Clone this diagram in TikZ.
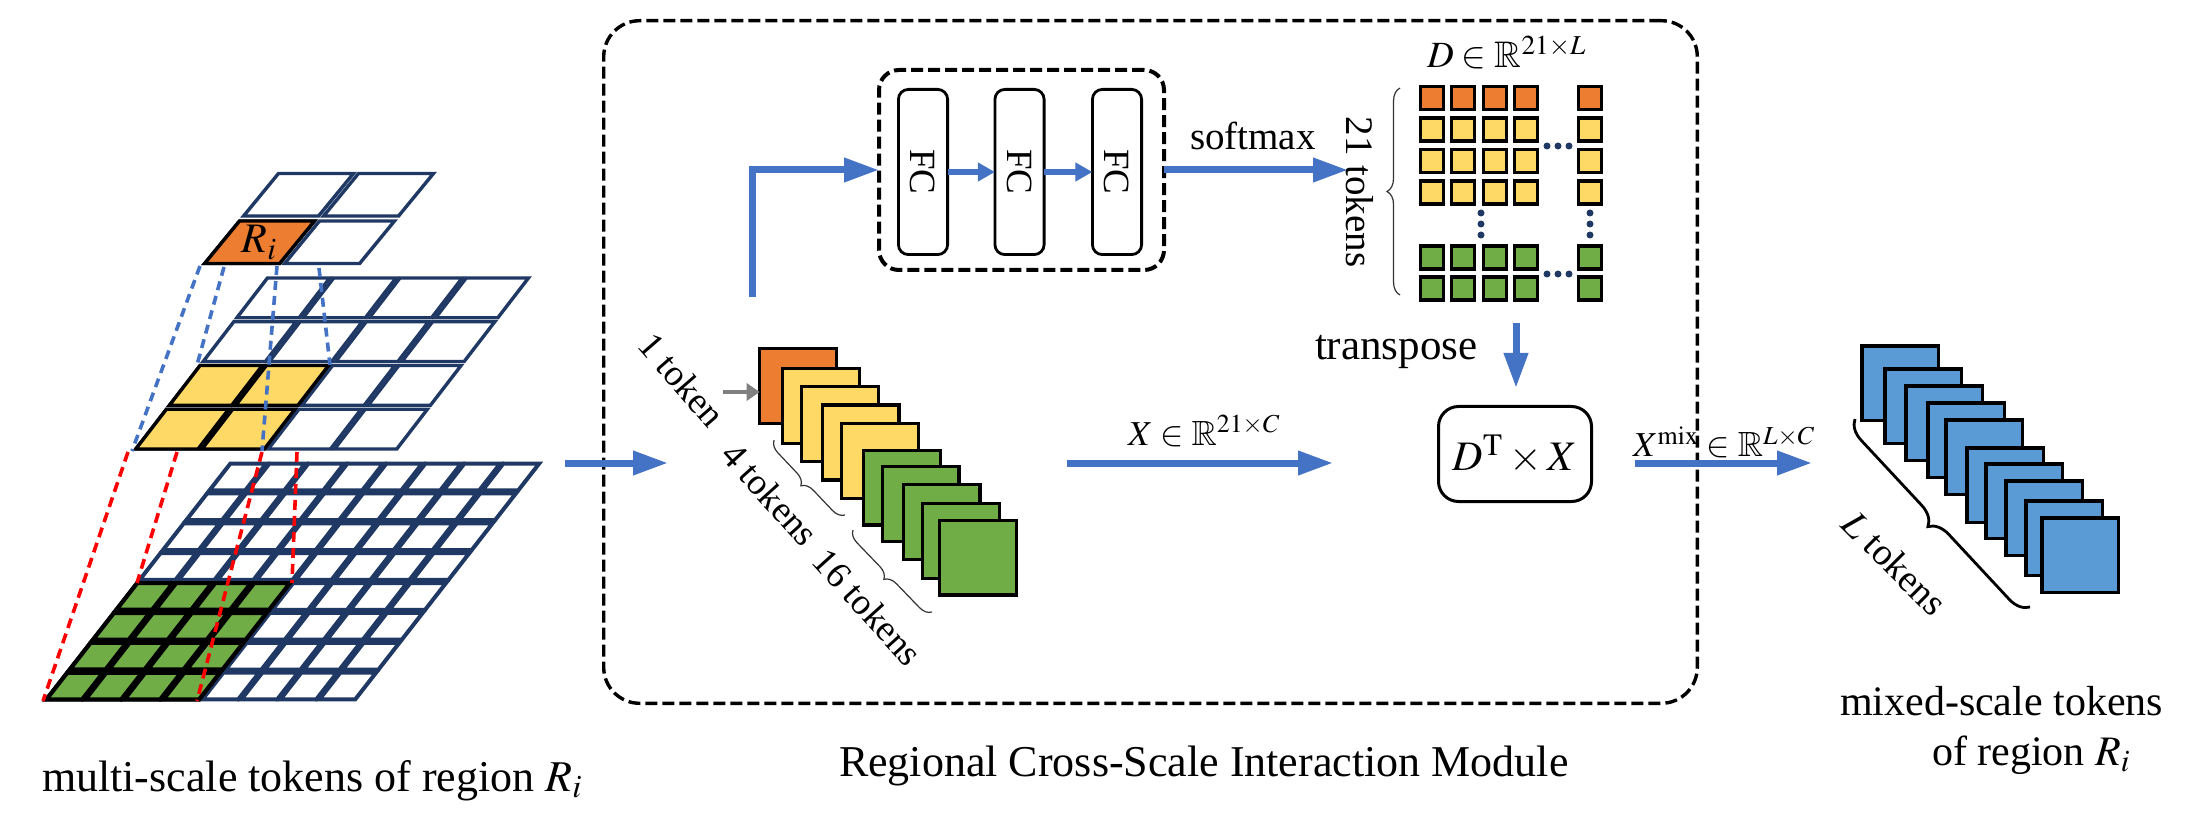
\documentclass[tikz,border=0pt]{standalone}
\usepackage{mathptmx}
\usepackage{amssymb}
\usepackage{fontspec}
\setmainfont{Liberation Serif}
\usetikzlibrary{arrows.meta,decorations.pathreplacing}
\definecolor{cOrange}{HTML}{ED7D31}
\definecolor{cYellow}{HTML}{FFD966}
\definecolor{cGreen}{HTML}{70AD47}
\definecolor{cBlue}{HTML}{5B9BD5}
\definecolor{cArrow}{HTML}{4472C4}
\definecolor{cNavy}{HTML}{1F3864}
\definecolor{cRed}{HTML}{FF0000}
\definecolor{cGray}{HTML}{7F7F7F}
\begin{document}
\begin{tikzpicture}[x=0.5pt,y=-0.5pt,
  every node/.style={inner sep=0pt,outer sep=0pt},
  navycell/.style={draw=cNavy,line width=1.5pt,fill=white,line join=miter},
  blkcell/.style={draw=black,line width=1.7pt,line join=miter},
  bigarrow/.style={draw=cArrow,line width=3.5pt,-{Triangle[length=17.5pt,width=11.5pt]}},
  smallarrow/.style={draw=cArrow,line width=3pt,-{Triangle[length=8.5pt,width=9pt]}},
  tok/.style={draw=black,line width=1.7pt,minimum width=38.3pt,minimum height=37.3pt},
  mcell/.style={draw=black,line width=1.6pt,minimum size=11.5pt},
  fcnode/.style={draw=black,line width=1.4pt,rounded corners=5pt,minimum width=24.6pt,minimum height=82.6pt},
  bluedash/.style={draw=cArrow,line width=1.8pt,dash pattern=on 4.5pt off 3pt},
  reddash/.style={draw=cRed,line width=1.8pt,dash pattern=on 5pt off 3pt},
  boxdash/.style={draw=black,dash pattern=on 6pt off 2.5pt},
  thinbrace/.style={draw=black!80,line width=0.6pt,decorate,decoration={brace,amplitude=6pt}},
  capfont/.style={font=\fontsize{22}{26}\selectfont},
  capfontR/.style={font=\fontsize{21}{25}\selectfont},
  lblfont/.style={font=\fontsize{18.5}{22}\selectfont},
  midfont/.style={font=\fontsize{19.5}{23}\selectfont},
  fcfont/.style={font=\fontsize{18.5}{22}\selectfont},
  mathfont/.style={font=\fontsize{17.5}{21}\selectfont},
  dotc/.style={fill=cNavy},
]
\useasboundingbox (0,0) rectangle (2205,828);

% ---------------- left: multi-scale grids ----------------
% layer 3 (8x8)
\begin{scope}[shift={(230,462)},xslant=0.78]
  \foreach \r in {0,...,7} \foreach \c in {0,...,7} {
    \pgfmathsetmacro\ua{\c*39+1.6}\pgfmathsetmacro\ub{\c*39+37.4}
    \pgfmathsetmacro\va{\r*29.875+1.6}\pgfmathsetmacro\vb{\r*29.875+28.3}
    \draw[navycell,line width=2pt] (\ua,\va) -- (\ub,\va) -- (\ub,\vb) -- (\ua,\vb) -- cycle;
  }
  \foreach \r in {4,...,7} \foreach \c in {0,...,3} {
    \pgfmathsetmacro\ua{\c*39+1.6}\pgfmathsetmacro\ub{\c*39+37.4}
    \pgfmathsetmacro\va{\r*29.875+1.6}\pgfmathsetmacro\vb{\r*29.875+28.3}
    \draw[blkcell,fill=cGreen,line width=2.1pt] (\ua,\va) -- (\ub,\va) -- (\ub,\vb) -- (\ua,\vb) -- cycle;
  }
\end{scope}
% layer 2 (4x4)
\begin{scope}[shift={(267,276)},xslant=0.77]
  \foreach \r in {0,...,3} \foreach \c in {0,...,3} {
    \pgfmathsetmacro\ua{\c*66.25+2}\pgfmathsetmacro\ub{\c*66.25+64.25}
    \pgfmathsetmacro\va{\r*43.75+2}\pgfmathsetmacro\vb{\r*43.75+41.75}
    \draw[navycell,line width=1.7pt] (\ua,\va) -- (\ub,\va) -- (\ub,\vb) -- (\ua,\vb) -- cycle;
  }
  \foreach \r in {2,3} \foreach \c in {0,1} {
    \pgfmathsetmacro\ua{\c*66.25+2}\pgfmathsetmacro\ub{\c*66.25+64.25}
    \pgfmathsetmacro\va{\r*43.75+2}\pgfmathsetmacro\vb{\r*43.75+41.75}
    \draw[blkcell,fill=cYellow] (\ua,\va) -- (\ub,\va) -- (\ub,\vb) -- (\ua,\vb) -- cycle;
  }
\end{scope}
% layer 1 (2x2)
\begin{scope}[shift={(278,171)},xslant=0.82]
  \foreach \r in {0,1} \foreach \c in {0,1} {
    \pgfmathsetmacro\ua{\c*80+2.5}\pgfmathsetmacro\ub{\c*80+77.5}
    \pgfmathsetmacro\va{\r*47.5+2.5}\pgfmathsetmacro\vb{\r*47.5+45}
    \draw[navycell,line width=1.7pt] (\ua,\va) -- (\ub,\va) -- (\ub,\vb) -- (\ua,\vb) -- cycle;
  }
  \draw[blkcell,fill=cOrange] (2.5,50) -- (77.5,50) -- (77.5,92.5) -- (2.5,92.5) -- cycle;
  \node[font=\fontsize{21}{25}\selectfont] (ri) at (40,71.5) {$R_i$};
\end{scope}

% projection lines
\coordinate (b1s) at (200,266); \coordinate (b1e) at (132,451);
\coordinate (b2s) at (224,267); \coordinate (b2e) at (197,365);
\coordinate (b3s) at (277,266); \coordinate (b3e) at (262,451);
\coordinate (b4s) at (319,268); \coordinate (b4e) at (330,365);
\draw[bluedash] (b1s) -- (b1e);
\draw[bluedash] (b2s) -- (b2e);
\draw[bluedash] (b3s) -- (b3e);
\draw[bluedash] (b4s) -- (b4e);
\coordinate (r1s) at (128,452); \coordinate (r1e) at (43,701);
\coordinate (r2s) at (177,452); \coordinate (r2e) at (137,583);
\coordinate (r3s) at (262,452); \coordinate (r3e) at (197,701);
\coordinate (r4s) at (297,452); \coordinate (r4e) at (292,583);
\draw[reddash] (r1s) -- (r1e);
\draw[reddash] (r2s) -- (r2e);
\draw[reddash] (r3s) -- (r3e);
\draw[reddash] (r4s) -- (r4e);

% ---------------- captions ----------------
\node[capfont,anchor=base west] (capL) at (42,791) {multi-scale tokens of region $R_i$};
\node[capfont,anchor=base west] (capM) at (839,776) {Regional Cross-Scale Interaction Module};
\node[capfontR,anchor=base west] (capR1) at (1840,715) {mixed-scale tokens};
\node[capfontR,anchor=base west] (capR2) at (1932,765) {of region $R_i$};

% ---------------- module box ----------------
\node[boxdash,line width=1.7pt,rounded corners=18pt,minimum width=546.8pt,minimum height=341.3pt] (module) at (1150.5,362) {};

% input arrow
\coordinate (in0) at (565,463); \coordinate (in1) at (668,463);
\draw[bigarrow] (in0) -- (in1);

% token stack
\foreach \x/\y/\c [count=\i] in {798/386/cOrange,821/406/cYellow,840/424/cYellow,860.5/442.5/cYellow,880/461/cYellow,902/487.5/cGreen,920.5/504/cGreen,941.5/522/cGreen,961/541/cGreen,978/557.5/cGreen}
  \node[tok,fill=\c] (t\i) at (\x,\y) {};
\coordinate (g0) at (723,392);
\draw[draw=cGray,line width=1.6pt,-{Triangle[length=6.5pt,width=8.5pt]}] (g0) -- (t1.west |- g0);
\node[lblfont,rotate=-49] (l1) at (682,380) {1 token};
\node[lblfont,rotate=-48] (l4) at (770,494) {4 tokens};
\node[lblfont,rotate=-48] (l16) at (868,607) {16 tokens};
\coordinate (br4a) at (845,515); \coordinate (br4b) at (774,440);
\coordinate (br16a) at (932,612); \coordinate (br16b) at (853,530);
\draw[thinbrace] (br4a) -- (br4b);
\draw[thinbrace] (br16a) -- (br16b);

% FC block
\node[boxdash,line width=2pt,rounded corners=10pt,minimum width=142.5pt,minimum height=100pt] (fcbox) at (1021.5,170) {};
\coordinate (up0) at (752,297);
\draw[bigarrow] (up0) |- (fcbox.west);
\node[fcnode] (fc1) at (923,172) {};
\node[fcnode] (fc2) at (1019.5,172) {};
\node[fcnode] (fc3) at (1117,172) {};
\node[fcfont,rotate=-90] (fc1t) at (fc1) {FC};
\node[fcfont,rotate=-90] (fc2t) at (fc2) {FC};
\node[fcfont,rotate=-90] (fc3t) at (fc3) {FC};
\draw[smallarrow] (fc1.east) -- (fc2.west);
\draw[smallarrow] (fc2.east) -- (fc3.west);
\coordinate (sm1) at (1348,170);
\draw[bigarrow] (fcbox.east) -- (sm1);
\node[midfont,anchor=base west] (smx) at (1190,150) {softmax};

% D matrix
\foreach \x [count=\i] in {1432,1463,1495,1526,1590} {
  \node[mcell,fill=cOrange] (mo\i) at (\x,98) {};
  \foreach \y [count=\j] in {129.5,161,192.5} \node[mcell,fill=cYellow] (my\j\i) at (\x,\y) {};
  \foreach \y [count=\j] in {257.5,288.5} \node[mcell,fill=cGreen] (mg\j\i) at (\x,\y) {};
}
\foreach \x in {1547,1558,1569} {
  \fill[dotc] (\x,146) circle (1.75pt);
  \fill[dotc] (\x,274) circle (1.75pt);
}
\foreach \y in {213,224,235} {
  \fill[dotc] (1481,\y) circle (1.75pt);
  \fill[dotc] (1590,\y) circle (1.75pt);
}
\coordinate (bDa) at (1400,295); \coordinate (bDb) at (1400,88);
\draw[thinbrace,decoration={brace,amplitude=6.5pt}] (bDa) -- (bDb);
\node[midfont,rotate=-90] (t21) at (1360,192) {21 tokens};
\node[font=\fontsize{18.5}{22}\selectfont,anchor=base west] (dlab) at (1427,68) {$D\in\mathbb{R}^{21\times L}$};

% transpose and product
\coordinate (tr0) at (1516,323); \coordinate (tr1) at (1516,388);
\draw[bigarrow] (tr0) -- (tr1);
\node[font=\fontsize{21.5}{25}\selectfont,anchor=base west] (trl) at (1315,360) {transpose};
\node[draw=black,line width=1.5pt,rounded corners=10pt,minimum width=76.5pt,minimum height=47.5pt,font=\fontsize{21}{25}\selectfont] (dtx) at (1515,454) {$D^{\mathrm{T}}\times X$};

% X arrow
\coordinate (xa0) at (1067,463); \coordinate (xa1) at (1333,463);
\draw[bigarrow] (xa0) -- (xa1);
\node[mathfont,anchor=base west] (xlab) at (1128,445) {$X\in\mathbb{R}^{21\times C}$};

% output arrow
\coordinate (oa0) at (1635,463); \coordinate (oa1) at (1812,463);
\draw[bigarrow] (oa0) -- (oa1);
\node[mathfont,anchor=base west] (xmlab) at (1633,457) {$X^{\mathrm{mix}}\in\mathbb{R}^{L\times C}$};

% output tokens
\foreach \x/\y [count=\i] in {1861/345,1884/368,1905/385,1927/402,1945/419,1966/447,1985/463,2005/480,2025/500,2041/517}
  \node[tok,fill=cBlue,anchor=north west] (o\i) at (\x+1,\y+1) {};
\coordinate (bLa) at (2030,607); \coordinate (bLb) at (1855,419);
\draw[draw=black,line width=1.4pt,decorate,decoration={brace,amplitude=10pt}] (bLa) -- (bLb);
\node[font=\fontsize{19}{23}\selectfont,rotate=-45] (ltok) at (1895,563) {$L$ tokens};
\end{tikzpicture}
\end{document}
